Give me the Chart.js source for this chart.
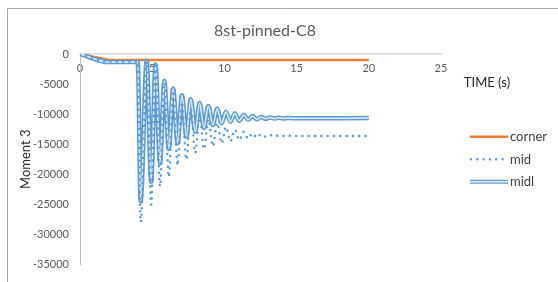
<!DOCTYPE html>
<html><head><meta charset="utf-8">
<script src="https://cdn.jsdelivr.net/npm/chart.js@4.4.1/dist/chart.umd.min.js"></script>
<style>html,body{margin:0;padding:0;background:#fff;overflow:hidden}canvas{display:block}</style>
</head><body>
<canvas id="c" width="558" height="282"></canvas>
<script>
// ---- data ----
const chartTitle = '8st-pinned-C8';
const xAxisTitle = 'TIME (s)';
const yAxisTitle = 'Moment 3';
const seriesNames = ['corner', 'mid', 'midl'];
const xTickValues = [0, 5, 10, 15, 20, 25];
const yTickValues = [0, -5000, -10000, -15000, -20000, -25000, -30000, -35000];

const cornerTime = [0, 2, 20];
const cornerValues = [0, -1000, -1000];

const waveTime = [0, 2, 4,
  4.2, 4.62, 4.93, 5.23, 5.54, 5.84, 6.15, 6.45, 6.76, 7.06, 7.37, 7.67,
  7.98, 8.28, 8.59, 8.89, 9.2, 9.5, 9.81, 10.11, 10.42, 10.72, 11.03, 11.33,
  11.64, 11.94, 12.25, 12.55, 12.86, 13.16, 13.47, 13.77, 14.08, 14.38, 14.69,
  20];
const midValues = [0, -1250, -1250,
  -27970, -1280, -25090, -1920, -22050, -4790, -20450, -6550, -18540, -7990,
  -17580, -9110, -16460, -10070, -15820, -10870, -15340, -11510, -14860, -12150,
  -14540, -12620, -14300, -12940, -14060, -13180, -13900, -13340, -13740, -13500,
  -13680, -13580, -13650, -13610, -13630,
  -13630];
const midlValues = [0, -1350, -1350,
  -24450, -1120, -21250, -1760, -18220, -4470, -15820, -5750, -14860, -6870,
  -13740, -7510, -12940, -8150, -12300, -8630, -11830, -9110, -11510, -9590,
  -11270, -9910, -11110, -10150, -10950, -10310, -10870, -10470, -10790, -10550,
  -10740, -10610, -10710, -10640, -10690,
  -10650];

// ---- styles ----
const BLUE = '#5B9BD5', ORANGE = '#ED7D31';
const FONT = 'Lato, "Liberation Sans", Arial, sans-serif';

function pts(t, v) { return t.map((x, i) => ({ x: x, y: v[i] })); }

const framePlugin = {
  id: 'frameAndTexts',
  beforeDraw(chart) {
    const ctx = chart.ctx;
    ctx.save();
    ctx.fillStyle = '#fff';
    ctx.fillRect(0, 0, chart.width, chart.height);
    ctx.strokeStyle = '#A6A6A6';
    ctx.lineWidth = 1;
    ctx.beginPath();
    ctx.moveTo(7.5, chart.height);
    ctx.lineTo(7.5, 8.5);
    ctx.lineTo(chart.width, 8.5);
    ctx.stroke();
    ctx.restore();
  },
  afterDraw(chart) {
    const ctx = chart.ctx;
    const a = chart.chartArea;
    ctx.save();
    // chart title
    ctx.fillStyle = '#595959';
    ctx.font = '16px ' + FONT;
    ctx.textAlign = 'center';
    ctx.textBaseline = 'middle';
    ctx.fillText(chartTitle, 265, 31);
    // x axis title
    ctx.fillStyle = '#262626';
    ctx.font = '13px ' + FONT;
    ctx.fillText(xAxisTitle, a.right + 46, 83);
    // legend
    const x0 = a.right + 29, len = 38;
    const yc = (a.top + a.bottom) / 2;
    const ys = [yc - 22.5, yc, yc + 22.5];
    ctx.textAlign = 'left';
    ctx.lineCap = 'butt';
    // corner
    ctx.strokeStyle = ORANGE; ctx.lineWidth = 2.5;
    ctx.beginPath(); ctx.moveTo(x0, ys[0]); ctx.lineTo(x0 + len, ys[0]); ctx.stroke();
    // mid
    ctx.strokeStyle = BLUE; ctx.lineWidth = 2.5; ctx.lineCap = 'round';
    ctx.setLineDash([0.01, 6.3]);
    ctx.beginPath(); ctx.moveTo(x0 + 1, ys[1]); ctx.lineTo(x0 + len, ys[1]); ctx.stroke();
    ctx.setLineDash([]); ctx.lineCap = 'butt';
    // midl
    ctx.strokeStyle = BLUE; ctx.lineWidth = 4;
    ctx.beginPath(); ctx.moveTo(x0, ys[2]); ctx.lineTo(x0 + len, ys[2]); ctx.stroke();
    ctx.strokeStyle = 'rgba(255,255,255,0.85)'; ctx.lineWidth = 1.5;
    ctx.beginPath(); ctx.moveTo(x0, ys[2]); ctx.lineTo(x0 + len, ys[2]); ctx.stroke();
    ctx.fillStyle = '#404040';
    ctx.font = '13px ' + FONT;
    seriesNames.forEach((n, i) => ctx.fillText(n, x0 + len + 2, ys[i] + 0.5));
    ctx.restore();
  }
};

new Chart(document.getElementById('c'), {
  type: 'line',
  data: {
    datasets: [
      { label: seriesNames[1], data: pts(waveTime, midValues), borderColor: BLUE,
        borderWidth: 2.5, borderDash: [0.01, 6.3], borderCapStyle: 'round',
        cubicInterpolationMode: 'monotone', pointRadius: 0 },
      { label: seriesNames[2] + '-inner', data: pts(waveTime, midlValues), borderColor: 'rgba(255,255,255,0.85)',
        borderWidth: 1.5, cubicInterpolationMode: 'monotone', pointRadius: 0 },
      { label: seriesNames[2], data: pts(waveTime, midlValues), borderColor: BLUE,
        borderWidth: 4.5, cubicInterpolationMode: 'monotone', pointRadius: 0 },
      { label: seriesNames[0], data: pts(cornerTime, cornerValues), borderColor: ORANGE,
        borderWidth: 2.5, pointRadius: 0, tension: 0 }
    ]
  },
  options: {
    responsive: false,
    animation: false,
    layout: { padding: { top: 54, bottom: 9, left: 7, right: 117 } },
    plugins: { legend: { display: false }, title: { display: false }, tooltip: { enabled: false } },
    scales: {
      x: {
        type: 'linear', position: { y: 0 }, min: 0, max: 25,
        afterBuildTicks: (s) => { s.ticks = xTickValues.map(v => ({ value: v })); },
        grid: { display: false, drawTicks: false },
        border: { display: true, color: '#D9D9D9', width: 1.5 },
        ticks: { color: '#595959', font: { family: FONT, size: 11 }, padding: 8, maxRotation: 0 }
      },
      y: {
        type: 'linear', min: -35000, max: 0,
        afterBuildTicks: (s) => { s.ticks = yTickValues.map(v => ({ value: v })); },
        afterFit: (s) => { s.width = 73; },
        grid: { display: false, drawTicks: false },
        border: { display: true, color: '#BFBFBF', width: 1 },
        ticks: { color: '#595959', font: { family: FONT, size: 11 }, padding: 11,
          callback: (v) => String(v) },
        title: { display: true, text: yAxisTitle, color: '#262626',
          font: { family: FONT, size: 13 }, padding: { top: 11, bottom: 0 } }
      }
    }
  },
  plugins: [framePlugin]
});
</script>
</body></html>
